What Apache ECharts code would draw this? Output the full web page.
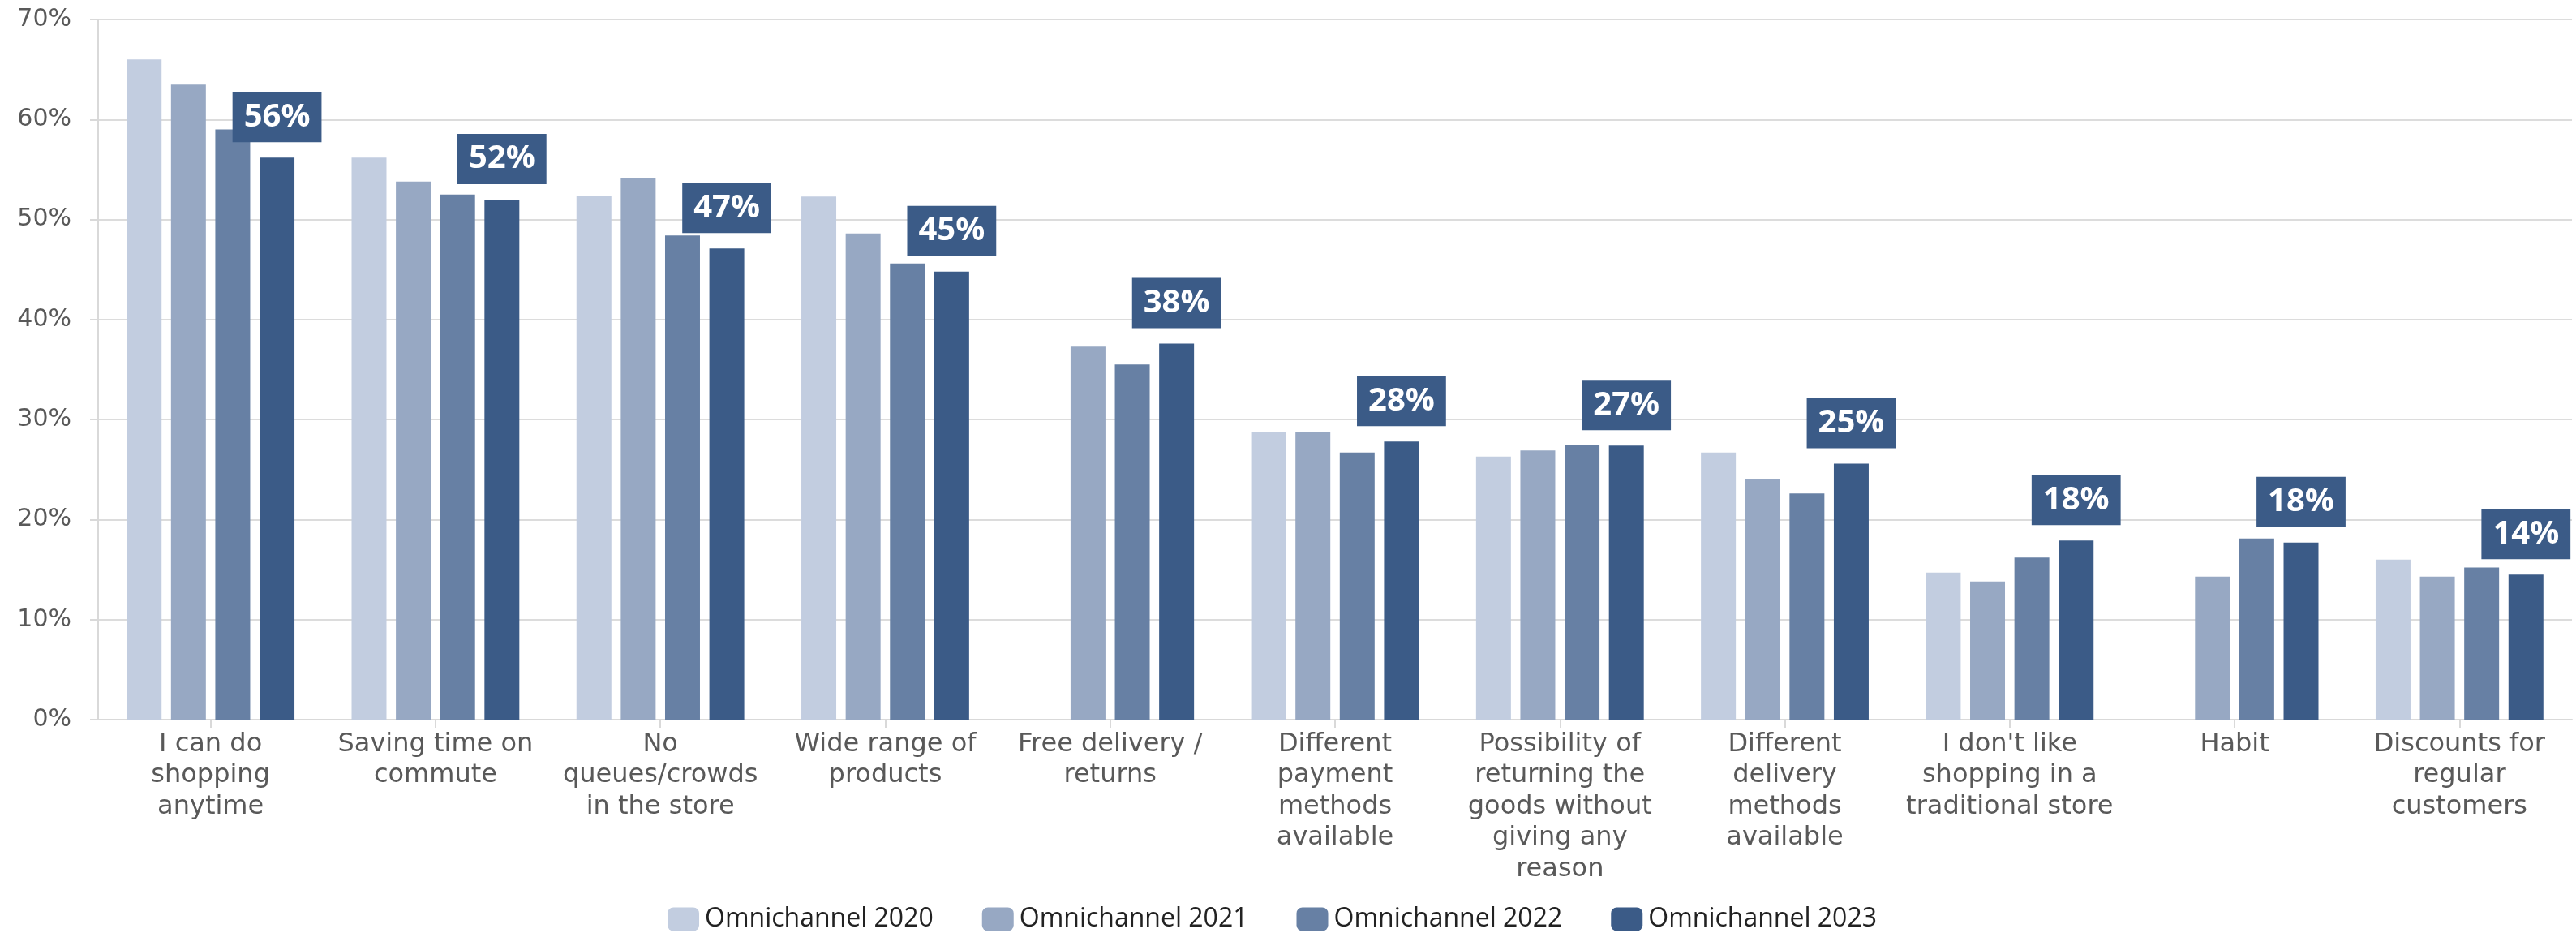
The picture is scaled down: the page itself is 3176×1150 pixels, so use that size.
<!DOCTYPE html>
<html>
<head>
<meta charset="utf-8">
<script src="https://cdn.jsdelivr.net/npm/echarts@6/dist/echarts.min.js"></script>
<style>
  html, body { margin: 0; padding: 0; background: #fff; }
  #chart { width: 3176px; height: 1150px; }
</style>
</head>
<body>
<div id="chart"></div>
<script>
// reasons for choosing online shopping, share of omnichannel shoppers (%)
const categories = [
  "I can do\nshopping\nanytime",
  "Saving time on\ncommute",
  "No\nqueues/crowds\nin the store",
  "Wide range of\nproducts",
  "Free delivery /\nreturns",
  "Different\npayment\nmethods\navailable",
  "Possibility of\nreturning the\ngoods without\ngiving any\nreason",
  "Different\ndelivery\nmethods\navailable",
  "I don't like\nshopping in a\ntraditional store",
  "Habit",
  "Discounts for\nregular\ncustomers",
];

const seriesNames = ["Omnichannel 2020", "Omnichannel 2021", "Omnichannel 2022", "Omnichannel 2023"];
const seriesColors = ["#c2cde0", "#97a8c3", "#6780a4", "#3b5b87"];

const values2020 = [66.0, 56.2, 52.4, 52.3, null, 28.8, 26.3, 26.7, 14.7, null, 16.0];
const values2021 = [63.5, 53.8, 54.1, 48.6, 37.3, 28.8, 26.9, 24.1, 13.8, 14.3, 14.3];
const values2022 = [59.0, 52.5, 48.4, 45.6, 35.5, 26.7, 27.5, 22.6, 16.2, 18.1, 15.2];
const values2023 = [56.2, 52.0, 47.1, 44.8, 37.6, 27.8, 27.4, 25.6, 17.9, 17.7, 14.5];

// value boxes shown over the 2023 bars
const labels2023 = ["56%", "52%", "47%", "45%", "38%", "28%", "27%", "25%", "18%", "18%", "14%"];

const yTicks = { min: 0, max: 70, interval: 10 };

const chart = echarts.init(document.getElementById("chart"), null, { renderer: "canvas" });

const allValues = [values2020, values2021, values2022, values2023];

const series = allValues.map((vals, i) => {
  const s = {
    name: seriesNames[i],
    type: "bar",
    data: vals,
    barWidth: 43,
    barGap: "27%",
    itemStyle: { color: seriesColors[i] },
  };
  if (i === 3) {
    s.label = {
      show: true,
      position: "top",
      distance: 19,
      formatter: (p) => labels2023[p.dataIndex],
      backgroundColor: "#3b5b87",
      color: "#fff",
      fontFamily: "Open Sans",
      fontWeight: "bold",
      fontSize: 40,
      lineHeight: 40,
      padding: [11, 14, 11, 14],
    };
  }
  return s;
});

chart.setOption({
  animation: false,
  backgroundColor: "#ffffff",
  legend: {
    data: seriesNames,
    left: 818,
    top: 1112,
    itemWidth: 39,
    itemHeight: 29,
    itemGap: 60,
    icon: "roundRect",
    textStyle: {
      fontFamily: "Open Sans",
      fontSize: 32,
      color: "#222222",
      padding: [0, 0, 0, 2],
    },
  },
  grid: {
    left: 121,
    right: 5,
    top: 24,
    bottom: 263,
    containLabel: false,
  },
  xAxis: {
    type: "category",
    data: categories,
    axisLine: { show: true, lineStyle: { color: "#d9d9d9", width: 2 } },
    axisTick: { show: true, alignWithLabel: true, length: 10, lineStyle: { color: "#d9d9d9", width: 2 } },
    axisLabel: {
      interval: 0,
      margin: 11,
      fontFamily: "DejaVu Sans",
      fontSize: 32,
      lineHeight: 38.5,
      color: "#595959",
    },
  },
  yAxis: {
    type: "value",
    min: yTicks.min,
    max: yTicks.max,
    interval: yTicks.interval,
    axisLine: { show: true, lineStyle: { color: "#d9d9d9", width: 2 } },
    axisTick: { show: true, length: 10, lineStyle: { color: "#d9d9d9", width: 2 } },
    splitLine: { show: true, lineStyle: { color: "#dcdcdc", width: 2 } },
    axisLabel: {
      margin: 33,
      fontFamily: "DejaVu Sans",
      fontSize: 30,
      color: "#595959",
      formatter: "{value}%",
    },
  },
  series: series,
});
</script>
</body>
</html>
